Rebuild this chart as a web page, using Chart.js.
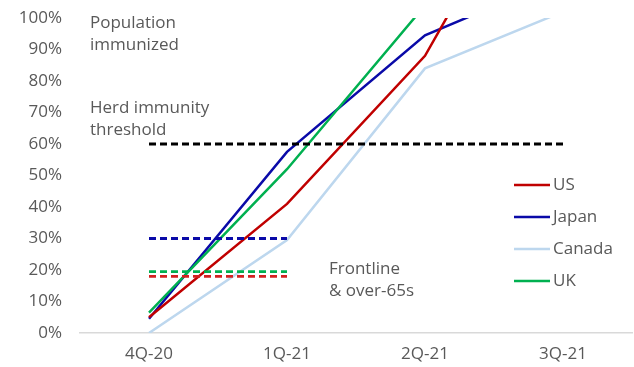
<!DOCTYPE html>
<html>
<head>
<meta charset="utf-8">
<script src="https://cdn.jsdelivr.net/npm/chart.js@4/dist/chart.umd.min.js"></script>
<style>
  html, body { margin: 0; padding: 0; background: #fff; }
  #wrap { width: 634px; height: 367px; position: relative; }
</style>
</head>
<body>
<div id="wrap"><canvas id="vaxChart"></canvas></div>
<script>
// data
const quarters = ['4Q-20', '1Q-21', '2Q-21', '3Q-21'];
const usValues = [5, 41, 88, 165];
const japanValues = [4.5, 57.5, 94.5, 113];
const canadaValues = [0, 29.5, 84, 102];
const ukValues = [6.5, 52, 104, 150];
const herdThreshold = [60, 60, 60, 60];
const usFrontline = [18, 18, null, null];
const japanFrontline = [30, 30, null, null];
const ukFrontline = [19.5, 19.5, null, null];
const yTicks = [0, 10, 20, 30, 40, 50, 60, 70, 80, 90, 100];

const textColor = '#595959';
const fontFamily = '"Open Sans", sans-serif';
const fontSize = 17;

const legendItems = [
    { label: 'US', color: '#c00000' },
    { label: 'Japan', color: '#0a0aa8' },
    { label: 'Canada', color: '#bdd7ee' },
    { label: 'UK', color: '#00b050' }
];

// annotations + legend drawn on top
const notesPlugin = {
    id: 'notes',
    afterDraw(chart) {
        const c = chart.ctx;
        c.save();
        c.font = fontSize + 'px ' + fontFamily;
        c.fillStyle = textColor;
        c.textBaseline = 'middle';
        c.textAlign = 'left';
        c.fillText('Population', 90, 23);
        c.fillText('immunized', 90, 45);
        c.fillText('Herd immunity', 90, 108);
        c.fillText('threshold', 90, 130);
        c.fillText('Frontline', 329, 269);
        c.fillText('& over-65s', 329, 291);

        legendItems.forEach((item, i) => {
            const y = 185 + i * 32;
            c.strokeStyle = item.color;
            c.lineWidth = 2.5;
            c.beginPath();
            c.moveTo(514, y);
            c.lineTo(550, y);
            c.stroke();
            c.fillText(item.label, 553, y);
        });
        c.restore();
    }
};

function seriesLine(label, data, color, width) {
    return {
        label: label,
        data: data,
        borderColor: color,
        borderWidth: width,
        pointRadius: 0,
        tension: 0,
        fill: false
    };
}

function dashLine(label, data, color) {
    return {
        label: label,
        data: data,
        borderColor: color,
        borderWidth: 2.8,
        borderDash: [7, 4],
        pointRadius: 0,
        fill: false,
        spanGaps: false
    };
}

const ctx = document.getElementById('vaxChart').getContext('2d');
const vaxChart = new Chart(ctx, {
    type: 'line',
    data: {
        labels: quarters,
        datasets: [
            dashLine('Herd immunity', herdThreshold, '#000000'),
            dashLine('Japan frontline', japanFrontline, '#0a0aa8'),
            dashLine('UK frontline', ukFrontline, '#00b050'),
            dashLine('US frontline', usFrontline, '#d42020'),
            seriesLine('Canada', canadaValues, '#bdd7ee', 2.5),
            seriesLine('UK', ukValues, '#00b050', 2.5),
            seriesLine('US', usValues, '#c00000', 2.5),
            seriesLine('Japan', japanValues, '#0a0aa8', 2.5)
        ]
    },
    options: {
        responsive: true,
        maintainAspectRatio: false,
        animation: false,
        layout: { padding: { top: 18, right: 2, left: 0, bottom: 0 } },
        plugins: {
            legend: { display: false },
            tooltip: { enabled: false }
        },
        scales: {
            x: {
                offset: true,
                grid: { display: false, drawTicks: false },
                border: { display: true, color: '#d9d9d9', width: 1.5 },
                ticks: {
                    color: textColor,
                    font: { family: fontFamily, size: fontSize },
                    padding: 11,
                    maxRotation: 0
                },
                afterFit(scale) {
                    scale.height = 34;
                    scale.paddingLeft = 0;
                    scale.paddingRight = 0;
                }
            },
            y: {
                min: 0,
                max: 100,
                grid: { display: false, drawTicks: false },
                border: { display: false },
                afterBuildTicks(scale) {
                    scale.ticks = yTicks.map(v => ({ value: v }));
                },
                ticks: {
                    color: textColor,
                    font: { family: fontFamily, size: fontSize },
                    padding: 18,
                    callback: v => v + '%'
                },
                afterFit(scale) {
                    scale.width = 80;
                    scale.paddingTop = 0;
                    scale.paddingBottom = 0;
                }
            }
        }
    },
    plugins: [notesPlugin]
});
</script>
</body>
</html>
